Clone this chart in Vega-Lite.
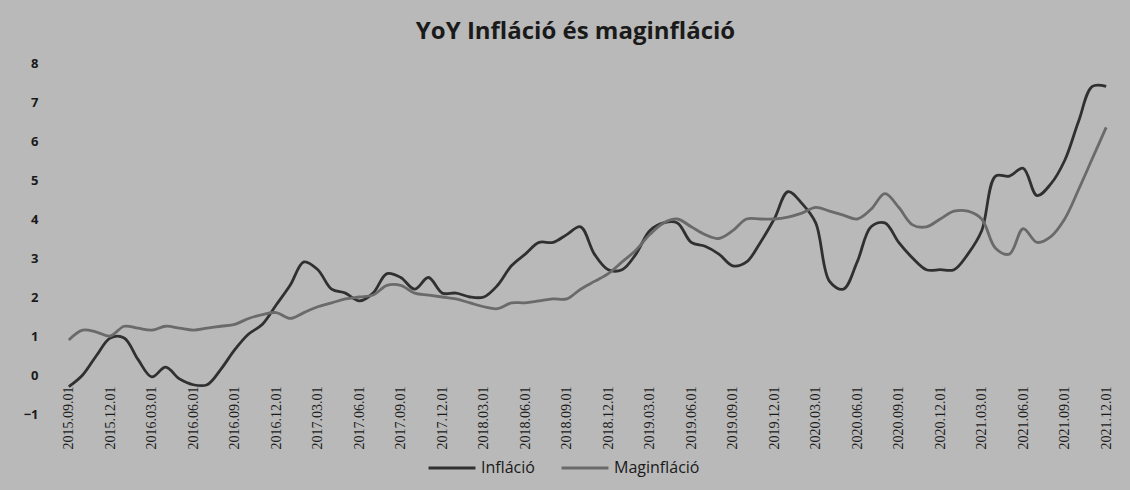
{
  "$schema": "https://vega.github.io/schema/vega-lite/v6.json",
  "width": 1065,
  "height": 351,
  "autosize": {"type": "none"},
  "padding": {"left": 55, "top": 63, "right": 10, "bottom": 76},
  "background": "#b9b9b9",
  "title": {"text": "YoY Infláció és maginfláció", "fontSize": 24, "font": "Open Sans", "fontWeight": "bold", "color": "#1a1a1a", "anchor": "middle", "offset": 13, "dx": -12},
  "config": {"view": {"stroke": null}, "font": "Open Sans"},
  "data": {"values": [
    {"d":"2015.09.01","s":"Infláció","v":-0.3},{"d":"2015.10.01","s":"Infláció","v":0.0},{"d":"2015.11.01","s":"Infláció","v":0.5},{"d":"2015.12.01","s":"Infláció","v":0.95},
    {"d":"2016.01.01","s":"Infláció","v":0.95},{"d":"2016.02.01","s":"Infláció","v":0.4},{"d":"2016.03.01","s":"Infláció","v":-0.05},{"d":"2016.04.01","s":"Infláció","v":0.2},{"d":"2016.05.01","s":"Infláció","v":-0.1},{"d":"2016.06.01","s":"Infláció","v":-0.25},{"d":"2016.07.01","s":"Infláció","v":-0.25},{"d":"2016.08.01","s":"Infláció","v":0.15},{"d":"2016.09.01","s":"Infláció","v":0.65},{"d":"2016.10.01","s":"Infláció","v":1.05},{"d":"2016.11.01","s":"Infláció","v":1.3},{"d":"2016.12.01","s":"Infláció","v":1.8},
    {"d":"2017.01.01","s":"Infláció","v":2.3},{"d":"2017.02.01","s":"Infláció","v":2.9},{"d":"2017.03.01","s":"Infláció","v":2.7},{"d":"2017.04.01","s":"Infláció","v":2.2},{"d":"2017.05.01","s":"Infláció","v":2.1},{"d":"2017.06.01","s":"Infláció","v":1.9},{"d":"2017.07.01","s":"Infláció","v":2.1},{"d":"2017.08.01","s":"Infláció","v":2.6},{"d":"2017.09.01","s":"Infláció","v":2.5},{"d":"2017.10.01","s":"Infláció","v":2.2},{"d":"2017.11.01","s":"Infláció","v":2.5},{"d":"2017.12.01","s":"Infláció","v":2.1},
    {"d":"2018.01.01","s":"Infláció","v":2.1},{"d":"2018.02.01","s":"Infláció","v":2.0},{"d":"2018.03.01","s":"Infláció","v":2.0},{"d":"2018.04.01","s":"Infláció","v":2.3},{"d":"2018.05.01","s":"Infláció","v":2.8},{"d":"2018.06.01","s":"Infláció","v":3.1},{"d":"2018.07.01","s":"Infláció","v":3.4},{"d":"2018.08.01","s":"Infláció","v":3.4},{"d":"2018.09.01","s":"Infláció","v":3.6},{"d":"2018.10.01","s":"Infláció","v":3.8},{"d":"2018.11.01","s":"Infláció","v":3.1},{"d":"2018.12.01","s":"Infláció","v":2.7},
    {"d":"2019.01.01","s":"Infláció","v":2.7},{"d":"2019.02.01","s":"Infláció","v":3.1},{"d":"2019.03.01","s":"Infláció","v":3.7},{"d":"2019.04.01","s":"Infláció","v":3.9},{"d":"2019.05.01","s":"Infláció","v":3.9},{"d":"2019.06.01","s":"Infláció","v":3.4},{"d":"2019.07.01","s":"Infláció","v":3.3},{"d":"2019.08.01","s":"Infláció","v":3.1},{"d":"2019.09.01","s":"Infláció","v":2.8},{"d":"2019.10.01","s":"Infláció","v":2.9},{"d":"2019.11.01","s":"Infláció","v":3.4},{"d":"2019.12.01","s":"Infláció","v":4.0},
    {"d":"2020.01.01","s":"Infláció","v":4.7},{"d":"2020.02.01","s":"Infláció","v":4.4},{"d":"2020.03.01","s":"Infláció","v":3.9},{"d":"2020.04.01","s":"Infláció","v":2.4},{"d":"2020.05.01","s":"Infláció","v":2.2},{"d":"2020.06.01","s":"Infláció","v":2.9},{"d":"2020.07.01","s":"Infláció","v":3.8},{"d":"2020.08.01","s":"Infláció","v":3.9},{"d":"2020.09.01","s":"Infláció","v":3.4},{"d":"2020.10.01","s":"Infláció","v":3.0},{"d":"2020.11.01","s":"Infláció","v":2.7},{"d":"2020.12.01","s":"Infláció","v":2.7},
    {"d":"2021.01.01","s":"Infláció","v":2.7},{"d":"2021.02.01","s":"Infláció","v":3.1},{"d":"2021.03.01","s":"Infláció","v":3.7},{"d":"2021.04.01","s":"Infláció","v":5.1},{"d":"2021.05.01","s":"Infláció","v":5.1},{"d":"2021.06.01","s":"Infláció","v":5.3},{"d":"2021.07.01","s":"Infláció","v":4.6},{"d":"2021.08.01","s":"Infláció","v":4.9},{"d":"2021.09.01","s":"Infláció","v":5.5},{"d":"2021.10.01","s":"Infláció","v":6.5},{"d":"2021.11.01","s":"Infláció","v":7.4},{"d":"2021.12.01","s":"Infláció","v":7.4},
    {"d":"2015.09.01","s":"Maginfláció","v":0.9},{"d":"2015.10.01","s":"Maginfláció","v":1.15},{"d":"2015.11.01","s":"Maginfláció","v":1.1},{"d":"2015.12.01","s":"Maginfláció","v":1.0},
    {"d":"2016.01.01","s":"Maginfláció","v":1.25},{"d":"2016.02.01","s":"Maginfláció","v":1.2},{"d":"2016.03.01","s":"Maginfláció","v":1.15},{"d":"2016.04.01","s":"Maginfláció","v":1.25},{"d":"2016.05.01","s":"Maginfláció","v":1.2},{"d":"2016.06.01","s":"Maginfláció","v":1.15},{"d":"2016.07.01","s":"Maginfláció","v":1.2},{"d":"2016.08.01","s":"Maginfláció","v":1.25},{"d":"2016.09.01","s":"Maginfláció","v":1.3},{"d":"2016.10.01","s":"Maginfláció","v":1.45},{"d":"2016.11.01","s":"Maginfláció","v":1.55},{"d":"2016.12.01","s":"Maginfláció","v":1.6},
    {"d":"2017.01.01","s":"Maginfláció","v":1.45},{"d":"2017.02.01","s":"Maginfláció","v":1.6},{"d":"2017.03.01","s":"Maginfláció","v":1.75},{"d":"2017.04.01","s":"Maginfláció","v":1.85},{"d":"2017.05.01","s":"Maginfláció","v":1.95},{"d":"2017.06.01","s":"Maginfláció","v":2.0},{"d":"2017.07.01","s":"Maginfláció","v":2.05},{"d":"2017.08.01","s":"Maginfláció","v":2.3},{"d":"2017.09.01","s":"Maginfláció","v":2.3},{"d":"2017.10.01","s":"Maginfláció","v":2.1},{"d":"2017.11.01","s":"Maginfláció","v":2.05},{"d":"2017.12.01","s":"Maginfláció","v":2.0},
    {"d":"2018.01.01","s":"Maginfláció","v":1.95},{"d":"2018.02.01","s":"Maginfláció","v":1.85},{"d":"2018.03.01","s":"Maginfláció","v":1.75},{"d":"2018.04.01","s":"Maginfláció","v":1.7},{"d":"2018.05.01","s":"Maginfláció","v":1.85},{"d":"2018.06.01","s":"Maginfláció","v":1.85},{"d":"2018.07.01","s":"Maginfláció","v":1.9},{"d":"2018.08.01","s":"Maginfláció","v":1.95},{"d":"2018.09.01","s":"Maginfláció","v":1.95},{"d":"2018.10.01","s":"Maginfláció","v":2.2},{"d":"2018.11.01","s":"Maginfláció","v":2.4},{"d":"2018.12.01","s":"Maginfláció","v":2.6},
    {"d":"2019.01.01","s":"Maginfláció","v":2.9},{"d":"2019.02.01","s":"Maginfláció","v":3.2},{"d":"2019.03.01","s":"Maginfláció","v":3.6},{"d":"2019.04.01","s":"Maginfláció","v":3.9},{"d":"2019.05.01","s":"Maginfláció","v":4.0},{"d":"2019.06.01","s":"Maginfláció","v":3.8},{"d":"2019.07.01","s":"Maginfláció","v":3.6},{"d":"2019.08.01","s":"Maginfláció","v":3.5},{"d":"2019.09.01","s":"Maginfláció","v":3.7},{"d":"2019.10.01","s":"Maginfláció","v":4.0},{"d":"2019.11.01","s":"Maginfláció","v":4.0},{"d":"2019.12.01","s":"Maginfláció","v":4.0},
    {"d":"2020.01.01","s":"Maginfláció","v":4.05},{"d":"2020.02.01","s":"Maginfláció","v":4.15},{"d":"2020.03.01","s":"Maginfláció","v":4.3},{"d":"2020.04.01","s":"Maginfláció","v":4.2},{"d":"2020.05.01","s":"Maginfláció","v":4.1},{"d":"2020.06.01","s":"Maginfláció","v":4.0},{"d":"2020.07.01","s":"Maginfláció","v":4.25},{"d":"2020.08.01","s":"Maginfláció","v":4.65},{"d":"2020.09.01","s":"Maginfláció","v":4.3},{"d":"2020.10.01","s":"Maginfláció","v":3.85},{"d":"2020.11.01","s":"Maginfláció","v":3.8},{"d":"2020.12.01","s":"Maginfláció","v":4.0},
    {"d":"2021.01.01","s":"Maginfláció","v":4.2},{"d":"2021.02.01","s":"Maginfláció","v":4.2},{"d":"2021.03.01","s":"Maginfláció","v":4.0},{"d":"2021.04.01","s":"Maginfláció","v":3.25},{"d":"2021.05.01","s":"Maginfláció","v":3.1},{"d":"2021.06.01","s":"Maginfláció","v":3.75},{"d":"2021.07.01","s":"Maginfláció","v":3.4},{"d":"2021.08.01","s":"Maginfláció","v":3.55},{"d":"2021.09.01","s":"Maginfláció","v":4.0},{"d":"2021.10.01","s":"Maginfláció","v":4.75},{"d":"2021.11.01","s":"Maginfláció","v":5.55},{"d":"2021.12.01","s":"Maginfláció","v":6.35}
  ]},
  "mark": {"type": "line", "interpolate": "catmull-rom", "strokeWidth": 2.8},
  "encoding": {
    "x": {"field": "d", "type": "ordinal", "sort": "ascending",
      "scale": {"type": "point", "padding": 1.05},
      "axis": {"title": null, "values": ["2015.09.01","2015.12.01","2016.03.01","2016.06.01","2016.09.01","2016.12.01","2017.03.01","2017.06.01","2017.09.01","2017.12.01","2018.03.01","2018.06.01","2018.09.01","2018.12.01","2019.03.01","2019.06.01","2019.09.01","2019.12.01","2020.03.01","2020.06.01","2020.09.01","2020.12.01","2021.03.01","2021.06.01","2021.09.01","2021.12.01"],
        "labelAngle": -90, "offset": -38, "ticks": false, "domain": false, "grid": false, "labelPadding": 10, "labelFontSize": 14, "labelColor": "#1a1a1a", "labelFont": "Liberation Sans Narrow"}},
    "y": {"field": "v", "type": "quantitative",
      "scale": {"domain": [-1, 8], "nice": false, "zero": false},
      "axis": {"title": null, "values": [-1,0,1,2,3,4,5,6,7,8], "ticks": false, "domain": false, "grid": false, "labelPadding": 17, "labelFontSize": 13, "labelColor": "#1a1a1a", "labelFontWeight": "bold"}},
    "color": {"field": "s", "type": "nominal",
      "scale": {"domain": ["Infláció", "Maginfláció"], "range": ["#303030", "#6a6a6a"]},
      "legend": {"title": null, "orient": "none", "legendX": 372, "legendY": 380, "direction": "horizontal", "symbolType": "stroke", "symbolSize": 2200, "symbolStrokeWidth": 2.8, "labelFontSize": 16, "labelColor": "#1a1a1a", "labelOffset": 4, "columnPadding": 20}}
  }
}
